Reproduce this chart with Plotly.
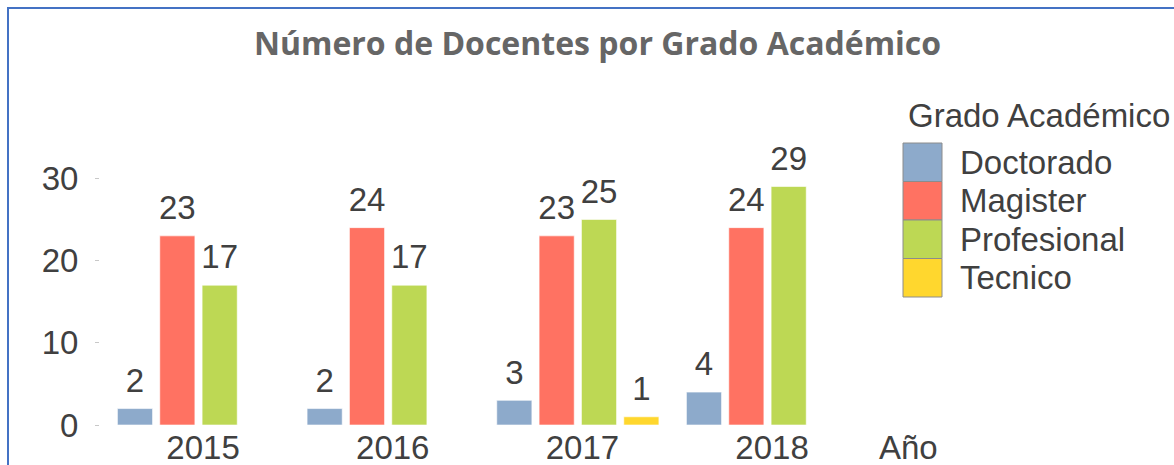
import plotly.graph_objects as go

years = ["2015", "2016", "2017", "2018"]
grados = ["Doctorado", "Magister", "Profesional", "Tecnico"]
doctorado = [2, 2, 3, 4]
magister = [23, 24, 23, 24]
profesional = [17, 17, 25, 29]
tecnico = [None, None, 1, None]
series = [doctorado, magister, profesional, tecnico]
colors = ["#8DAACB", "#FF7262", "#BDD854", "#FFD72E"]

W, H = 1174, 465
PL, PR, PT, PB = 100, 862, 140, 425  # plot area in pixels
FONT = "Liberation Sans, Arial, sans-serif"
TXT = "#404040"
FS = 33


def px_x(p):
    return (p - PL) / (PR - PL)


def px_y(p):
    return (PB - p) / (PB - PT)


fig = go.Figure()
for name, vals, col in zip(grados, series, colors):
    fig.add_trace(go.Bar(
        x=years, y=vals, name=name, offsetgroup=name,
        marker=dict(color=col, line=dict(color="rgba(255,255,255,0.6)", width=1)),
        showlegend=False, hoverinfo="x+y+name",
    ))
# value labels (grouped scatter text aligned with bars)
for name, vals in zip(grados, series):
    fig.add_trace(go.Scatter(
        x=years, y=vals, name=name, offsetgroup=name,
        mode="markers+text", marker=dict(size=12, opacity=0),
        text=[None if v is None else str(v) for v in vals],
        textposition="top center",
        textfont=dict(family=FONT, size=FS, color=TXT),
        cliponaxis=False, showlegend=False, hoverinfo="skip",
    ))

shapes = []
annotations = []

# outer border (cropped chart frame)
shapes.append(dict(type="rect", xref="paper", yref="paper",
                   x0=px_x(8), x1=px_x(1300), y0=px_y(8), y1=px_y(600),
                   line=dict(color="#4472C4", width=2), fillcolor="rgba(0,0,0,0)",
                   layer="above"))

# manual legend
annotations.append(dict(xref="paper", yref="paper", x=px_x(906), y=px_y(116),
                        xanchor="left", yanchor="middle", showarrow=False,
                        text="Grado Académico", font=dict(family=FONT, size=FS, color=TXT)))
row_h = 38.5
top0 = 143
for i, (name, col) in enumerate(zip(grados, colors)):
    y0 = top0 + i * row_h
    y1 = y0 + row_h
    shapes.append(dict(type="rect", xref="paper", yref="paper",
                       x0=px_x(903), x1=px_x(942), y0=px_y(y1), y1=px_y(y0),
                       line=dict(color="#8C8C8C", width=1), fillcolor=col, layer="above"))
    annotations.append(dict(xref="paper", yref="paper", x=px_x(958), y=px_y((y0 + y1) / 2),
                            xanchor="left", yanchor="middle", showarrow=False,
                            text=name, font=dict(family=FONT, size=FS, color=TXT)))

# x axis title at right end
annotations.append(dict(xref="paper", yref="paper", x=px_x(908), y=px_y(447),
                        xanchor="center", yanchor="middle", showarrow=False,
                        text="Año", font=dict(family=FONT, size=FS, color=TXT)))

cat_w = (767.5 - 198.5) / 3
x_lo = -(198.5 - PL) / cat_w
x_hi = (PR - 198.5) / cat_w
px_per_unit = (425 - 178.3) / 30
y_hi = (PB - PT) / px_per_unit

fig.update_layout(
    width=W, height=H,
    margin=dict(l=PL, r=W - PR, t=PT, b=H - PB, pad=0, autoexpand=False),
    paper_bgcolor="white", plot_bgcolor="white",
    barmode="group", bargap=0.107, bargroupgap=0.17,
    scattermode="group", scattergap=0.107,
    title=dict(text="<b>Número de Docentes por Grado Académico</b>",
               x=597.5 / W, xref="container", xanchor="center",
               y=1 - 44 / H, yref="container", yanchor="middle",
               font=dict(family="Open Sans, sans-serif", size=32, color="#666666")),
    xaxis=dict(type="category", range=[x_lo, x_hi], showgrid=False, zeroline=False,
               showline=False, ticks="", tickvals=years, automargin=False,
               ticktext=["\u00a0" + y for y in years],
               tickfont=dict(family=FONT, size=FS, color=TXT)),
    yaxis=dict(range=[0, y_hi], showgrid=False, zeroline=False, showline=False,
               tickvals=[0, 10, 20, 30], ticks="outside", ticklen=4, tickcolor="#C8C8C8",
               ticklabelstandoff=10, automargin=False,
               tickfont=dict(family=FONT, size=FS, color=TXT)),
    shapes=shapes, annotations=annotations,
    font=dict(family=FONT, color=TXT),
)

fig.write_html("out.html", config={"displayModeBar": False},
               post_script="document.body.style.margin='0';document.body.style.overflow='hidden';")
